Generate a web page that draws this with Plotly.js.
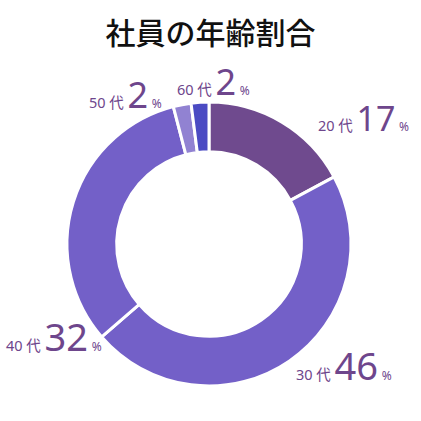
<!DOCTYPE html>
<html><head><meta charset="utf-8">
<script src="https://cdn.plot.ly/plotly-3.0.1.min.js"></script>
<style>html,body{margin:0;padding:0;background:#fff;}#chart{width:421px;height:421px;}</style>
</head><body><div id="chart"></div>
<script>
var categories = ["20代", "30代", "40代", "50代", "60代"];
var values = [17, 46, 32, 2, 2];
var unit = "%";
var titleText = "社員の年齢割合";

var colors = ["#6F4A8E", "#7360C8", "#7360C8", "#9182D2", "#4B4BC3"];
var textColor = "#6E468C";
// label anchor positions (pixels, left edge / vertical middle)
var labelPos = [[316, 118], [294, 365], [4, 336], [87, 95], [175, 82]];
var bigSize = [34, 38, 38, 36, 36];

var annotations = categories.map(function (c, i) {
  return {
    xref: "paper", yref: "paper",
    x: labelPos[i][0] / 421, y: 1 - labelPos[i][1] / 421,
    xanchor: "left", yanchor: "middle", showarrow: false,
    font: {family: "Noto Sans, Noto Sans CJK JP, sans-serif", color: textColor, size: 14},
    text: '<span style="font-size:14.5px">' + c.replace("代", " 代") + '</span> ' +
          '<span style="font-size:' + bigSize[i] + 'px">' + values[i] + '</span> ' +
          '<span style="font-size:12px">' + unit + '</span>'
  };
});

var trace = {
  type: "pie",
  labels: categories,
  values: values,
  sort: false,
  direction: "clockwise",
  rotation: 0,
  hole: 0.65,
  textinfo: "none",
  hoverinfo: "label+value",
  marker: {colors: colors, line: {color: "#ffffff", width: 3}},
  domain: {x: [(209 - 142) / 421, (209 + 142) / 421], y: [(177 - 142) / 421, (177 + 142) / 421]},
  showlegend: false
};

var layout = {
  width: 421, height: 421,
  margin: {l: 0, r: 0, t: 0, b: 0},
  paper_bgcolor: "#ffffff",
  title: {
    text: titleText,
    x: 0.5, xanchor: "center",
    y: 1 - 33 / 421, yref: "container", yanchor: "middle",
    font: {family: "Noto Sans CJK JP, sans-serif", size: 30, color: "#111111", weight: 500}
  },
  annotations: annotations
};

Plotly.newPlot("chart", [trace], layout, {displayModeBar: false, staticPlot: true});
</script>
</body></html>
